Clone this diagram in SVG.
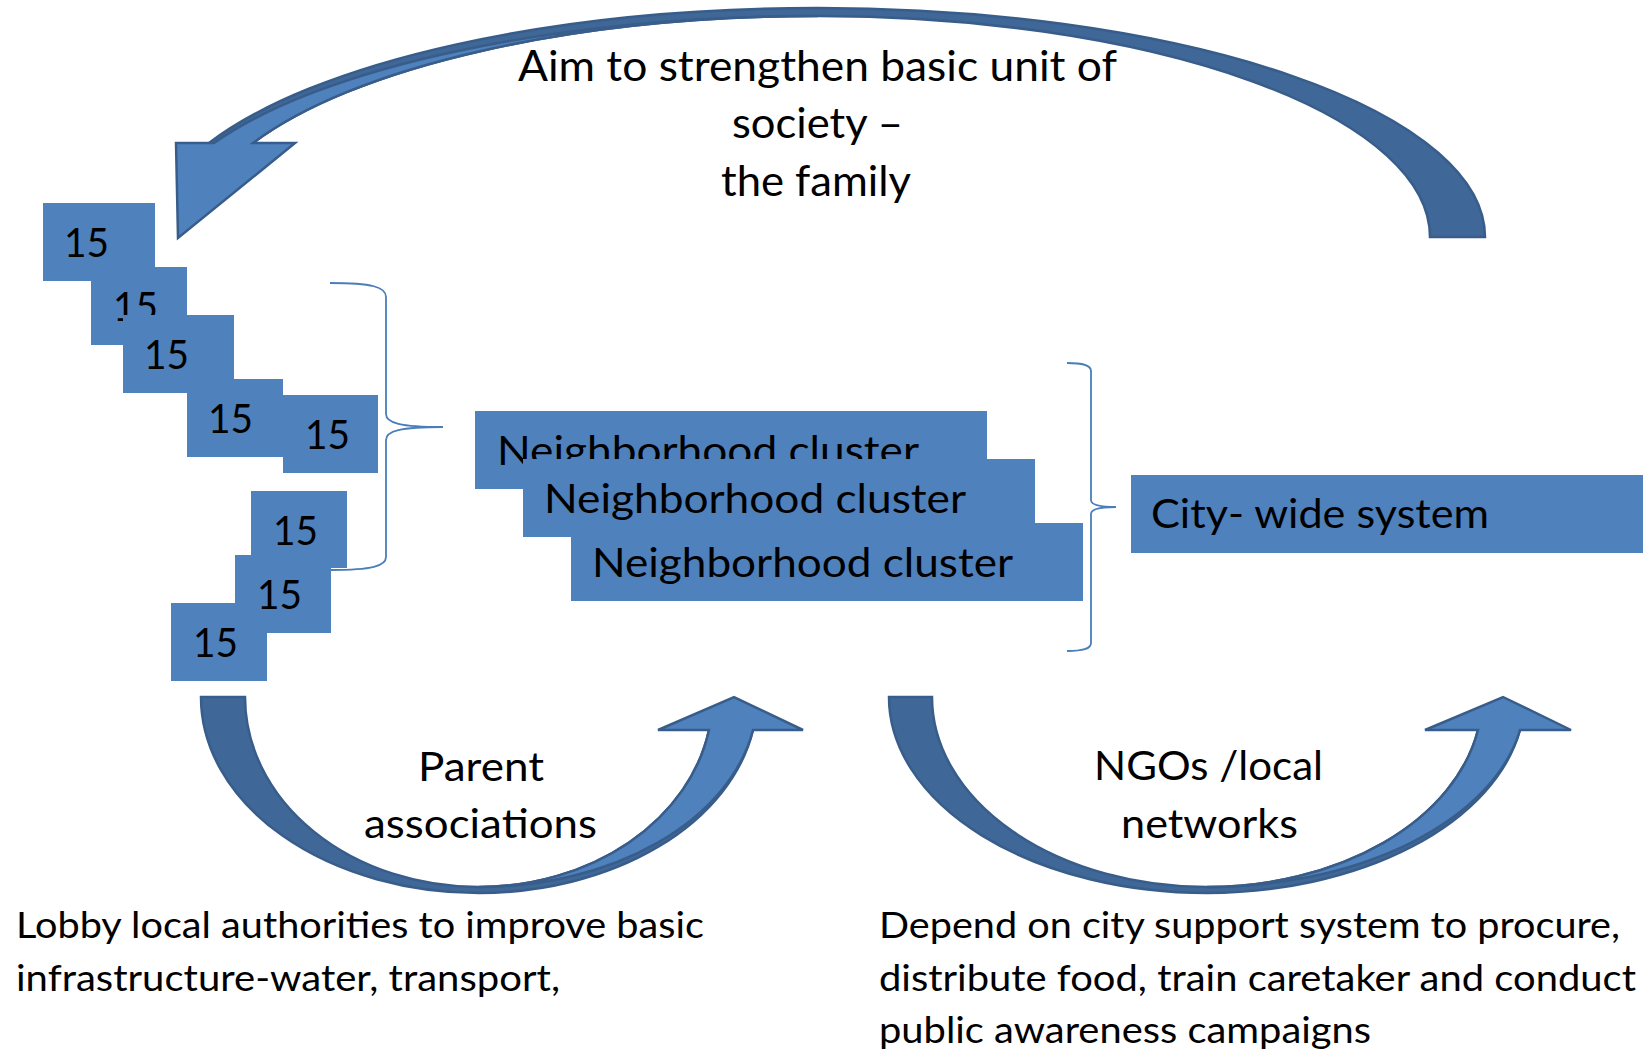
<svg xmlns="http://www.w3.org/2000/svg" width="1648" height="1050" viewBox="0 0 1648 1050">
<style>
.bg{fill:#FFFFFF}
.box{fill:#4F81BD}
.t{font-family:Lato,"Open Sans","Liberation Sans",sans-serif;fill:#000000}
.num{font-size:40px}
.nc{font-size:40px}
.title{font-size:42px}
.mid{font-size:41px}
.note{font-size:37px}
.brace{fill:none;stroke:#4A7EBB;stroke-width:1.8}
.dark{fill:#3F6797;stroke:#385D8A;stroke-width:2.5;stroke-linejoin:miter}
.light{fill:#4F81BD;stroke:#385D8A;stroke-width:2.5;stroke-linejoin:miter}
</style>
<rect class="bg" x="0" y="0" width="1648" height="1050"/>

<g id="connectors">
  <g id="arrow-top">
    <path class="dark" d="M 1485 237 A 667 229 0 0 0 818 8 A 667 229 0 0 0 209 143 L 253 143 A 624 221 0 0 1 818 16 A 612 221 0 0 1 1430 237 Z"/>
    <path class="light" d="M 214 143 A 667 221 0 0 1 818 16 A 624 221 0 0 0 253 143 L 295 143 L 178 238 L 176 143 Z"/>
  </g>
  <g id="arrow-parent">
    <path class="dark" d="M 201 697 A 278 196 0 0 0 479 893 A 278 196 0 0 0 753 730 L 709 730 A 234 190 0 0 1 479 887 A 234 190 0 0 1 245 697 Z"/>
    <path class="light" d="M 479 887 A 278 190 0 0 0 753 730 L 803 730 L 734 697 L 658 730 L 709 730 A 234 190 0 0 1 479 887 Z"/>
  </g>
  <g id="arrow-ngo">
    <path class="dark" d="M 889 697 A 318 196 0 0 0 1207 893 A 318 196 0 0 0 1520 730 L 1478 730 A 275 190 0 0 1 1207 887 A 275 190 0 0 1 932 697 Z"/>
    <path class="light" d="M 1207 887 A 318 190 0 0 0 1520 730 L 1571 730 L 1503 697 L 1425 730 L 1478 730 A 275 190 0 0 1 1207 887 Z"/>
  </g>
  <path id="brace-left" class="brace" d="M 330 283 C 372 283 386 287 386 297 L 386 414 C 386 423 400 427 443 427 C 400 427 386 431 386 440 L 386 557 C 386 566 372 570 331 570"/>
  <path id="brace-right" class="brace" d="M 1067 363 C 1083 363 1091 365 1091 371 L 1091 500 C 1091 505 1099 507 1116 507 C 1099 507 1091 509 1091 514 L 1091 643 C 1091 649 1083 651 1067 651"/>
</g>

<g id="label-top">
  <text class="t title" x="518" y="81" textLength="599" lengthAdjust="spacingAndGlyphs">Aim to strengthen basic unit of</text>
  <text class="t title" x="732" y="138" textLength="171" lengthAdjust="spacingAndGlyphs">society –</text>
  <text class="t title" x="721" y="196" textLength="190" lengthAdjust="spacingAndGlyphs">the family</text>
</g>

<g id="family-units">
  <g id="unit-1"><rect class="box" x="43" y="203" width="112" height="78"/><text class="t num" x="64" y="257" textLength="45" lengthAdjust="spacingAndGlyphs">15</text></g>
  <g id="unit-2"><rect class="box" x="91" y="267" width="96" height="78"/><text class="t num" x="113" y="321" textLength="45" lengthAdjust="spacingAndGlyphs">15</text></g>
  <g id="unit-3"><rect class="box" x="123" y="315" width="111" height="78"/><text class="t num" x="144" y="369" textLength="45" lengthAdjust="spacingAndGlyphs">15</text></g>
  <g id="unit-4"><rect class="box" x="187" y="379" width="96" height="78"/><text class="t num" x="208" y="433" textLength="45" lengthAdjust="spacingAndGlyphs">15</text></g>
  <g id="unit-5"><rect class="box" x="283" y="395" width="95" height="78"/><text class="t num" x="305" y="449" textLength="45" lengthAdjust="spacingAndGlyphs">15</text></g>
  <g id="unit-8"><rect class="box" x="171" y="603" width="96" height="78"/><text class="t num" x="193" y="657" textLength="45" lengthAdjust="spacingAndGlyphs">15</text></g>
  <g id="unit-7"><rect class="box" x="235" y="555" width="96" height="78"/><text class="t num" x="257" y="609" textLength="45" lengthAdjust="spacingAndGlyphs">15</text></g>
  <g id="unit-6"><rect class="box" x="251" y="491" width="96" height="77"/><text class="t num" x="273" y="545" textLength="45" lengthAdjust="spacingAndGlyphs">15</text></g>
</g>

<g id="clusters">
  <g id="cluster-1"><rect class="box" x="475" y="411" width="512" height="78"/><text class="t nc" x="497" y="465" textLength="422" lengthAdjust="spacingAndGlyphs">Neighborhood cluster</text></g>
  <g id="cluster-2"><rect class="box" x="523" y="459" width="512" height="78"/><text class="t nc" x="544" y="513" textLength="422" lengthAdjust="spacingAndGlyphs">Neighborhood cluster</text></g>
  <g id="cluster-3"><rect class="box" x="571" y="523" width="512" height="78"/><text class="t nc" x="592" y="577" textLength="421" lengthAdjust="spacingAndGlyphs">Neighborhood cluster</text></g>
</g>

<g id="city">
  <rect class="box" x="1131" y="475" width="512" height="78"/>
  <text class="t nc" x="1151" y="528" textLength="338" lengthAdjust="spacingAndGlyphs">City- wide system</text>
</g>

<g id="label-parent">
  <text class="t mid" x="418" y="781" textLength="126" lengthAdjust="spacingAndGlyphs">Parent</text>
  <text class="t mid" x="364" y="838" textLength="233" lengthAdjust="spacingAndGlyphs">associations</text>
</g>
<g id="label-ngo">
  <text class="t mid" x="1094" y="780" textLength="229" lengthAdjust="spacingAndGlyphs">NGOs /local</text>
  <text class="t mid" x="1121" y="838" textLength="177" lengthAdjust="spacingAndGlyphs">networks</text>
</g>

<g id="note-left">
  <text class="t note" x="16" y="938" textLength="688" lengthAdjust="spacingAndGlyphs">Lobby local authorities to improve basic</text>
  <text class="t note" x="16" y="991" textLength="544" lengthAdjust="spacingAndGlyphs">infrastructure-water, transport,</text>
</g>
<g id="note-right">
  <text class="t note" x="879" y="938" textLength="741" lengthAdjust="spacingAndGlyphs">Depend on city support system to procure,</text>
  <text class="t note" x="879" y="991" textLength="757" lengthAdjust="spacingAndGlyphs">distribute food, train caretaker and conduct</text>
  <text class="t note" x="879" y="1043" textLength="492" lengthAdjust="spacingAndGlyphs">public awareness campaigns</text>
</g>
</svg>
